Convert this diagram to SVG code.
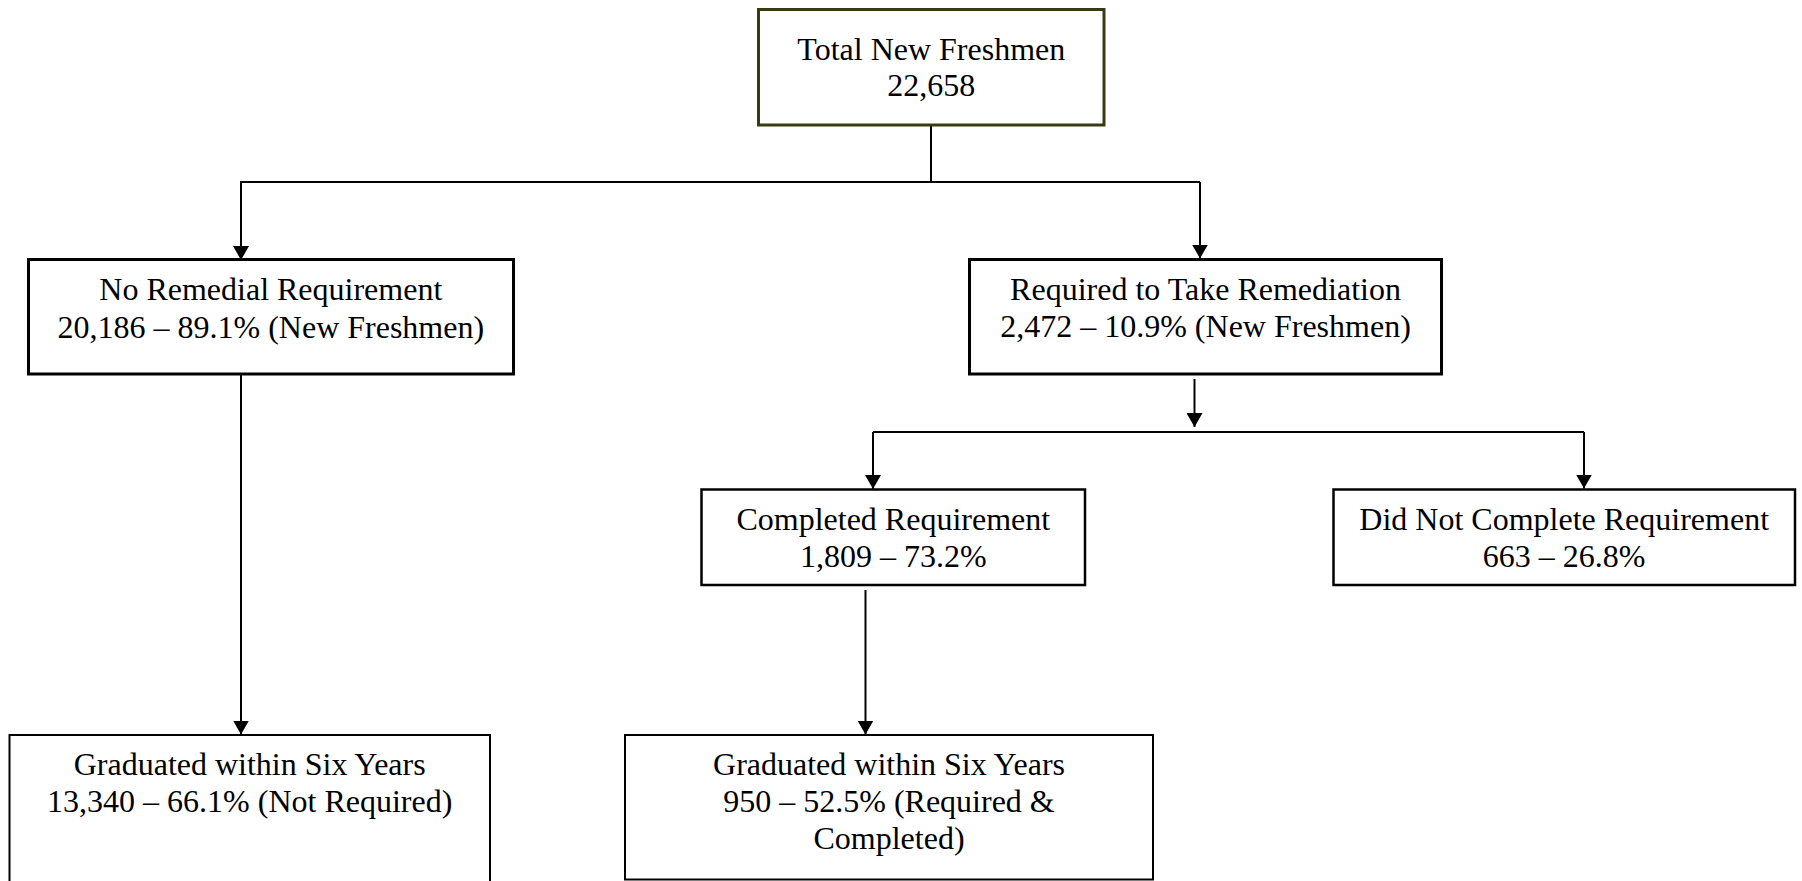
<svg xmlns="http://www.w3.org/2000/svg" width="1802" height="881" viewBox="0 0 1802 881">
  <style>
    .box { fill: #ffffff; stroke: #000000; }
    .lvl1 { stroke-width: 3; }
    .lvl2 { stroke-width: 2.5; }
    .lvl3 { stroke-width: 2; }
    .root { stroke: #3a3a12; stroke-width: 3; }
    .label { font-family: "Liberation Serif", "Times New Roman", serif; font-size: 32px; fill: #000000; text-anchor: middle; }
    .wire { fill: none; stroke: #000000; stroke-width: 2; }
  </style>
  <defs>
    <marker id="arrow" viewBox="0 0 14 16" refX="14" refY="8" markerWidth="14" markerHeight="16" markerUnits="userSpaceOnUse" orient="auto">
      <path d="M0,0 L14,8 L0,16 z" fill="#000000"/>
    </marker>
  </defs>
  <rect width="1802" height="881" fill="#ffffff"/>

  <!-- connectors -->
  <g id="connectors">
    <path class="wire" d="M931,125 V182"/>
    <path class="wire" d="M240,182 H1200"/>
    <path class="wire" d="M241,182 V260" marker-end="url(#arrow)"/>
    <path class="wire" d="M1200,182 V258.5" marker-end="url(#arrow)"/>
    <path class="wire" d="M241,374 V734.5" marker-end="url(#arrow)"/>
    <path class="wire" d="M1194.5,379 V427" marker-end="url(#arrow)"/>
    <path class="wire" d="M873,432 H1584"/>
    <path class="wire" d="M873,432 V489" marker-end="url(#arrow)"/>
    <path class="wire" d="M1584,432 V488.5" marker-end="url(#arrow)"/>
    <path class="wire" d="M865.5,590 V734.5" marker-end="url(#arrow)"/>
  </g>

  <!-- nodes -->
  <g id="total-new-freshmen">
    <rect class="root" x="758.5" y="9.5" width="345.5" height="115.5" fill="#ffffff"/>
    <text class="label" x="931.3" y="60">Total New Freshmen</text>
    <text class="label" x="931.3" y="95.5">22,658</text>
  </g>

  <g id="no-remedial">
    <rect class="box lvl1" x="28.5" y="259.5" width="485" height="114.5"/>
    <text class="label" x="270.8" y="300">No Remedial Requirement</text>
    <text class="label" x="270.8" y="338">20,186 – 89.1% (New Freshmen)</text>
  </g>

  <g id="required-remediation">
    <rect class="box lvl1" x="969.5" y="259.5" width="472" height="114.5"/>
    <text class="label" x="1205.5" y="299.5">Required to Take Remediation</text>
    <text class="label" x="1205.5" y="337">2,472 – 10.9% (New Freshmen)</text>
  </g>

  <g id="completed-requirement">
    <rect class="box lvl2" x="701.5" y="489.5" width="383.5" height="95.5"/>
    <text class="label" x="893.3" y="530">Completed Requirement</text>
    <text class="label" x="893.3" y="567">1,809 – 73.2%</text>
  </g>

  <g id="did-not-complete">
    <rect class="box lvl2" x="1333.5" y="489.5" width="461.5" height="95.5"/>
    <text class="label" x="1564.2" y="530">Did Not Complete Requirement</text>
    <text class="label" x="1564.2" y="567">663 – 26.8%</text>
  </g>

  <g id="graduated-not-required">
    <rect class="box lvl3" x="9.5" y="735" width="480.5" height="152"/>
    <text class="label" x="249.7" y="775">Graduated within Six Years</text>
    <text class="label" x="249.7" y="812">13,340 – 66.1% (Not Required)</text>
  </g>

  <g id="graduated-required-completed">
    <rect class="box lvl3" x="625" y="735" width="528" height="144.5"/>
    <text class="label" x="889" y="775">Graduated within Six Years</text>
    <text class="label" x="889" y="811.7">950 – 52.5% (Required &amp;</text>
    <text class="label" x="889" y="848.5">Completed)</text>
  </g>
</svg>
